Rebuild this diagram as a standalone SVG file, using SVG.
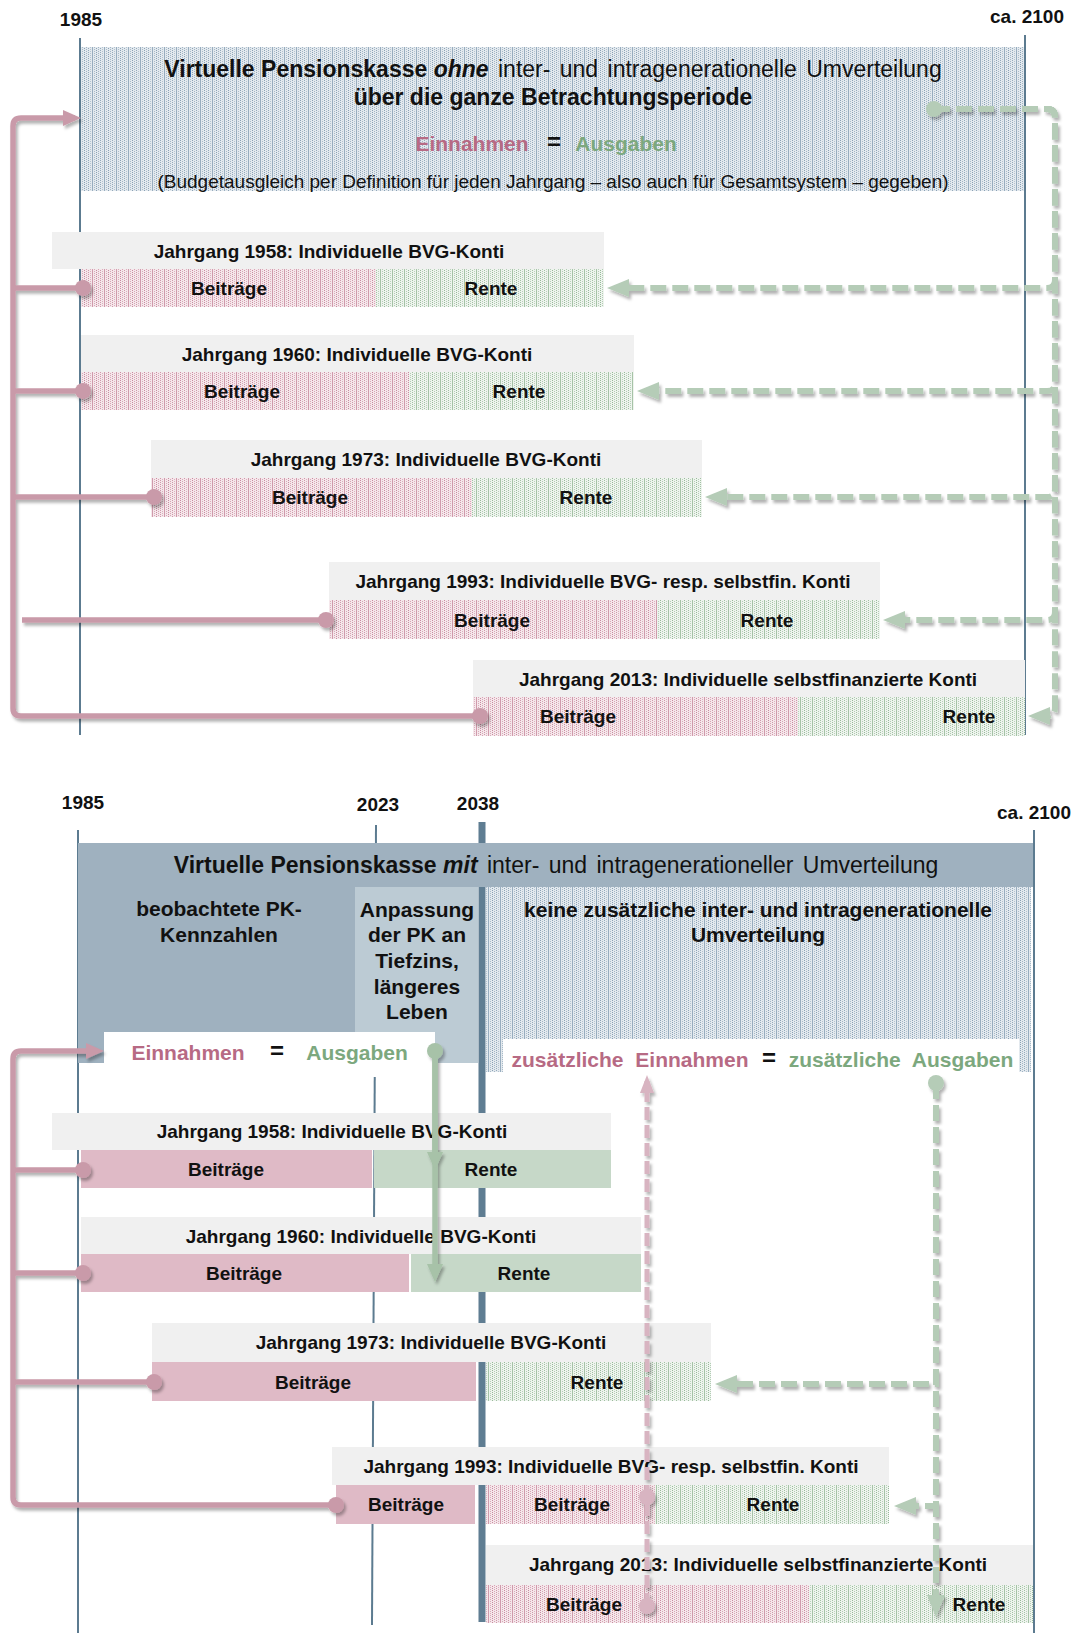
<svg xmlns="http://www.w3.org/2000/svg" width="1075" height="1637" viewBox="0 0 1075 1637">
  <defs>
    <style>
      text { font-family: "Liberation Sans", Arial, sans-serif; fill: #111111; text-anchor: middle; dominant-baseline: central; }
      .yr { font-size: 19px; font-weight: bold; }
      .lbl { font-size: 19px; font-weight: bold; }
      .ttl { font-size: 23px; }
      .sub { font-size: 19px; }
      .col { font-size: 21px; font-weight: bold; }
      .ein { font-size: 21px; font-weight: bold; fill: #b76a84; }
      .aus { font-size: 21px; font-weight: bold; fill: #7ca87e; }
      .eq { font-size: 24px; font-weight: bold; }
      .axis { stroke: #5c7b90; stroke-width: 2; fill: none; }
      .axis.thick { stroke-width: 7; stroke: #5f7d92; }
      .hdr { fill: #f0f0f0; }
      .pk { fill: #dfbac6; }
      .gn { fill: #c6d8c8; }
      .pinkLine { fill: none; stroke: #c99aa9; stroke-width: 5.5; }
      .greenDash { fill: none; stroke: #b5ccb7; stroke-width: 6; stroke-dasharray: 16 6; }
      .greenLine { fill: none; stroke: #a7c2a8; stroke-width: 5.5; }
      .pinkDash { fill: none; stroke: #d8b4c1; stroke-width: 5; stroke-dasharray: 13 5; }
    </style>
    <!-- fine dotted textures with faint vertical banding -->
    <pattern id="pBlue" width="12" height="2" patternUnits="userSpaceOnUse">
      <rect width="12" height="2" fill="#e3e9ee"/>
      <rect x="0" y="0" width="1" height="1" fill="#8aa1b5"/>
      <rect x="2" y="1" width="1" height="1" fill="#a2b5c5"/>
      <rect x="4" y="0" width="1" height="1" fill="#93a9bb"/>
      <rect x="6" y="1" width="1" height="1" fill="#b3c3d0"/>
      <rect x="8" y="0" width="1" height="2" fill="#98adbf"/>
      <rect x="10" y="1" width="1" height="1" fill="#a9bbc9"/>
    </pattern>
    <pattern id="pPink" width="12" height="2" patternUnits="userSpaceOnUse">
      <rect width="12" height="2" fill="#f5e7eb"/>
      <rect x="0" y="0" width="1" height="1" fill="#c98ba0"/>
      <rect x="2" y="1" width="1" height="1" fill="#d7a6b5"/>
      <rect x="4" y="0" width="1" height="1" fill="#cf98aa"/>
      <rect x="6" y="1" width="1" height="1" fill="#dcb0be"/>
      <rect x="8" y="0" width="1" height="2" fill="#d09bac"/>
      <rect x="10" y="1" width="1" height="1" fill="#d9abb9"/>
    </pattern>
    <pattern id="pGreen" width="12" height="2" patternUnits="userSpaceOnUse">
      <rect width="12" height="2" fill="#eef4ee"/>
      <rect x="0" y="0" width="1" height="1" fill="#98b99a"/>
      <rect x="2" y="1" width="1" height="1" fill="#b3ccb4"/>
      <rect x="4" y="0" width="1" height="1" fill="#a3c1a4"/>
      <rect x="6" y="1" width="1" height="1" fill="#bad1bb"/>
      <rect x="8" y="0" width="1" height="2" fill="#a6c3a7"/>
      <rect x="10" y="1" width="1" height="1" fill="#b6ceb7"/>
    </pattern>
    <filter id="shadow" filterUnits="userSpaceOnUse" x="0" y="0" width="1075" height="1637">
      <feDropShadow dx="2" dy="3" stdDeviation="1.6" flood-color="#000" flood-opacity="0.3"/>
    </filter>
    <marker id="arrPink" markerUnits="userSpaceOnUse" markerWidth="18" markerHeight="18" refX="12" refY="9" orient="auto">
      <path d="M0,1 L18,9 L0,17 z" fill="#c99aa9"/>
    </marker>
    <marker id="arrGreenD" markerUnits="userSpaceOnUse" markerWidth="22" markerHeight="20" refX="15" refY="10" orient="auto">
      <path d="M0,1 L22,10 L0,19 z" fill="#b5ccb7"/>
    </marker>
    <marker id="arrGreen" markerUnits="userSpaceOnUse" markerWidth="18" markerHeight="18" refX="12" refY="9" orient="auto">
      <path d="M0,1 L18,9 L0,17 z" fill="#a7c2a8"/>
    </marker>
    <marker id="arrPinkD" markerUnits="userSpaceOnUse" markerWidth="18" markerHeight="16" refX="12" refY="8" orient="auto">
      <path d="M0,1 L18,8 L0,15 z" fill="#d8b4c1"/>
    </marker>
    <marker id="dotPink" markerUnits="userSpaceOnUse" markerWidth="18" markerHeight="18" refX="9" refY="9">
      <circle cx="9" cy="9" r="8" fill="#c99aa9"/>
    </marker>
    <marker id="dotGreenD" markerUnits="userSpaceOnUse" markerWidth="18" markerHeight="18" refX="9" refY="9">
      <circle cx="9" cy="9" r="8" fill="#b5ccb7"/>
    </marker>
    <marker id="dotGreen" markerUnits="userSpaceOnUse" markerWidth="18" markerHeight="18" refX="9" refY="9">
      <circle cx="9" cy="9" r="8" fill="#a7c2a8"/>
    </marker>
    <marker id="dotPinkD" markerUnits="userSpaceOnUse" markerWidth="18" markerHeight="18" refX="9" refY="9">
      <circle cx="9" cy="9" r="8" fill="#d8b4c1"/>
    </marker>
  </defs>

  <rect width="1075" height="1637" fill="#ffffff"/>

  <!-- ===== Part 1: without redistribution ===== -->
  <g id="axes-1">
    <line class="axis" x1="80" y1="38" x2="80" y2="735"/>
    <line class="axis" x1="1025" y1="35" x2="1025" y2="735"/>
    <text class="yr" x="81" y="19">1985</text>
    <text class="yr" x="1027" y="16">ca. 2100</text>
  </g>

  <g id="pk-ohne">
    <rect x="81" y="47" width="943" height="144" fill="url(#pBlue)"/>
    <text class="ttl" x="553" y="69"><tspan font-weight="bold">Virtuelle Pensionskasse </tspan><tspan font-weight="bold" font-style="italic">ohne</tspan><tspan word-spacing="3"> inter- und intragenerationelle Umverteilung</tspan></text>
    <text class="ttl" x="553" y="97" font-weight="bold">über die ganze Betrachtungsperiode</text>
    <text class="ein" x="472" y="143">Einnahmen</text>
    <text class="eq" x="554" y="141">=</text>
    <text class="aus" x="626" y="143">Ausgaben</text>
    <text class="sub" x="553" y="181">(Budgetausgleich per Definition für jeden Jahrgang – also auch für Gesamtsystem – gegeben)</text>
  </g>

  <g id="a-1958">
    <rect class="hdr" x="52" y="232" width="552" height="37"/>
    <rect x="81" y="269" width="295" height="38" fill="url(#pPink)"/>
    <rect x="376" y="269" width="228" height="38" fill="url(#pGreen)"/>
    <text class="lbl" x="329" y="251">Jahrgang 1958: Individuelle BVG-Konti</text>
    <text class="lbl" x="229" y="288">Beiträge</text>
    <text class="lbl" x="491" y="288">Rente</text>
  </g>
  <g id="a-1960">
    <rect class="hdr" x="81" y="335" width="553" height="37"/>
    <rect x="81" y="372" width="328" height="38" fill="url(#pPink)"/>
    <rect x="409" y="372" width="225" height="38" fill="url(#pGreen)"/>
    <text class="lbl" x="357" y="354">Jahrgang 1960: Individuelle BVG-Konti</text>
    <text class="lbl" x="242" y="391">Beiträge</text>
    <text class="lbl" x="519" y="391">Rente</text>
  </g>
  <g id="a-1973">
    <rect class="hdr" x="151" y="440" width="551" height="38"/>
    <rect x="151" y="478" width="321" height="39" fill="url(#pPink)"/>
    <rect x="472" y="478" width="230" height="39" fill="url(#pGreen)"/>
    <text class="lbl" x="426" y="459">Jahrgang 1973: Individuelle BVG-Konti</text>
    <text class="lbl" x="310" y="497">Beiträge</text>
    <text class="lbl" x="586" y="497">Rente</text>
  </g>
  <g id="a-1993">
    <rect class="hdr" x="329" y="562" width="551" height="38"/>
    <rect x="329" y="600" width="328" height="39" fill="url(#pPink)"/>
    <rect x="657" y="600" width="223" height="39" fill="url(#pGreen)"/>
    <text class="lbl" x="603" y="581">Jahrgang 1993: Individuelle BVG- resp. selbstfin. Konti</text>
    <text class="lbl" x="492" y="620">Beiträge</text>
    <text class="lbl" x="767" y="620">Rente</text>
  </g>
  <g id="a-2013">
    <rect class="hdr" x="473" y="660" width="552" height="37"/>
    <rect x="473" y="697" width="325" height="39" fill="url(#pPink)"/>
    <rect x="798" y="697" width="227" height="39" fill="url(#pGreen)"/>
    <text class="lbl" x="748" y="679">Jahrgang 2013: Individuelle selbstfinanzierte Konti</text>
    <text class="lbl" x="578" y="716">Beiträge</text>
    <text class="lbl" x="969" y="716">Rente</text>
  </g>

  <!-- ===== Part 2: with redistribution ===== -->
  <g id="axes-2">
    <line class="axis" x1="78" y1="830" x2="78" y2="1633"/>
    <line class="axis" x1="376" y1="825" x2="372" y2="1625"/>
    <line class="axis thick" x1="482" y1="822" x2="482" y2="1622"/>
    <line class="axis" x1="1034" y1="830" x2="1034" y2="1633"/>
    <text class="yr" x="83" y="802">1985</text>
    <text class="yr" x="378" y="804">2023</text>
    <text class="yr" x="478" y="803">2038</text>
    <text class="yr" x="1034" y="812">ca. 2100</text>
  </g>

  <g id="pk-mit">
    <rect x="78" y="843" width="955" height="44" fill="#9fb1bf"/>
    <rect x="78" y="887" width="277" height="176" fill="#9fb1bf"/>
    <rect x="355" y="887" width="123" height="176" fill="#bccbd4"/>
    <rect x="486" y="887" width="545" height="185" fill="url(#pBlue)"/>
    <rect x="503" y="1039" width="516" height="40" fill="#ffffff"/>
    <rect x="104" y="1032" width="331" height="45" fill="#ffffff"/>
    <text class="ttl" x="556" y="865"><tspan font-weight="bold">Virtuelle Pensionskasse </tspan><tspan font-weight="bold" font-style="italic">mit</tspan><tspan word-spacing="3"> inter- und intragenerationeller Umverteilung</tspan></text>
    <text class="col" x="219" y="908">beobachtete PK-</text>
    <text class="col" x="219" y="934">Kennzahlen</text>
    <text class="col" x="417" y="909">Anpassung</text>
    <text class="col" x="417" y="934">der PK an</text>
    <text class="col" x="417" y="960">Tiefzins,</text>
    <text class="col" x="417" y="986">längeres</text>
    <text class="col" x="417" y="1011">Leben</text>
    <text class="col" x="758" y="909">keine zusätzliche inter- und intragenerationelle</text>
    <text class="col" x="758" y="934">Umverteilung</text>
    <text class="ein" x="188" y="1052">Einnahmen</text>
    <text class="eq" x="277" y="1050">=</text>
    <text class="aus" x="357" y="1052">Ausgaben</text>
    <text class="ein" x="630" y="1059" word-spacing="6">zusätzliche Einnahmen</text>
    <text class="eq" x="769" y="1057">=</text>
    <text class="aus" x="901" y="1059" word-spacing="6">zusätzliche Ausgaben</text>
  </g>

  <g id="b-1958">
    <rect class="hdr" x="52" y="1113" width="559" height="37"/>
    <rect class="pk" x="81" y="1150" width="291" height="38"/>
    <rect class="gn" x="374" y="1150" width="237" height="38"/>
    <text class="lbl" x="332" y="1131">Jahrgang 1958: Individuelle BVG-Konti</text>
    <text class="lbl" x="226" y="1169">Beiträge</text>
    <text class="lbl" x="491" y="1169">Rente</text>
  </g>
  <g id="b-1960">
    <rect class="hdr" x="81" y="1217" width="560" height="37"/>
    <rect class="pk" x="81" y="1254" width="328" height="38"/>
    <rect class="gn" x="411" y="1254" width="230" height="38"/>
    <text class="lbl" x="361" y="1236">Jahrgang 1960: Individuelle BVG-Konti</text>
    <text class="lbl" x="244" y="1273">Beiträge</text>
    <text class="lbl" x="524" y="1273">Rente</text>
  </g>
  <g id="b-1973">
    <rect class="hdr" x="152" y="1323" width="559" height="39"/>
    <rect class="pk" x="152" y="1362" width="324" height="39"/>
    <rect x="486" y="1362" width="225" height="39" fill="url(#pGreen)"/>
    <text class="lbl" x="431" y="1342">Jahrgang 1973: Individuelle BVG-Konti</text>
    <text class="lbl" x="313" y="1382">Beiträge</text>
    <text class="lbl" x="597" y="1382">Rente</text>
  </g>
  <g id="b-1993">
    <rect class="hdr" x="332" y="1447" width="557" height="38"/>
    <rect class="pk" x="336" y="1485" width="139" height="39"/>
    <rect x="486" y="1485" width="169" height="39" fill="url(#pPink)"/>
    <rect x="655" y="1485" width="234" height="39" fill="url(#pGreen)"/>
    <text class="lbl" x="611" y="1466">Jahrgang 1993: Individuelle BVG- resp. selbstfin. Konti</text>
    <text class="lbl" x="406" y="1504">Beiträge</text>
    <text class="lbl" x="572" y="1504">Beiträge</text>
    <text class="lbl" x="773" y="1504">Rente</text>
  </g>
  <g id="b-2013">
    <rect class="hdr" x="486" y="1545" width="547" height="40"/>
    <rect x="486" y="1585" width="323" height="38" fill="url(#pPink)"/>
    <rect x="809" y="1585" width="224" height="38" fill="url(#pGreen)"/>
    <text class="lbl" x="758" y="1564">Jahrgang 2013: Individuelle selbstfinanzierte Konti</text>
    <text class="lbl" x="584" y="1604">Beiträge</text>
    <text class="lbl" x="979" y="1604">Rente</text>
  </g>

  <!-- ===== Connectors ===== -->
  <g id="connectors" filter="url(#shadow)">
    <!-- part 1: contributions into the pension fund -->
    <path class="pinkLine" d="M480,716 H21 Q13,716 13,708 V126 Q13,118 21,118 H75" marker-start="url(#dotPink)" marker-end="url(#arrPink)"/>
    <path class="pinkLine" d="M83,288 H13" marker-start="url(#dotPink)"/>
    <path class="pinkLine" d="M83,391 H13" marker-start="url(#dotPink)"/>
    <path class="pinkLine" d="M154,497 H13" marker-start="url(#dotPink)"/>
    <path class="pinkLine" d="M326,620 H22" marker-start="url(#dotPink)"/>
    <!-- part 1: pensions paid out -->
    <path class="greenDash" d="M934,109 H1047 Q1055,109 1055,117 V280 Q1055,288 1047,288 H614" marker-start="url(#dotGreenD)" marker-end="url(#arrGreenD)"/>
    <path class="greenDash" d="M934,109 H1047 Q1055,109 1055,117 V383 Q1055,391 1047,391 H644" marker-end="url(#arrGreenD)"/>
    <path class="greenDash" d="M934,109 H1047 Q1055,109 1055,117 V489 Q1055,497 1047,497 H712" marker-end="url(#arrGreenD)"/>
    <path class="greenDash" d="M934,109 H1047 Q1055,109 1055,117 V612 Q1055,620 1047,620 H890" marker-end="url(#arrGreenD)"/>
    <path class="greenDash" d="M934,109 H1047 Q1055,109 1055,117 V708 Q1055,716 1047,716 H1035" marker-end="url(#arrGreenD)"/>

    <!-- part 2: contributions -->
    <path class="pinkLine" d="M336,1505 H21 Q13,1505 13,1497 V1059 Q13,1051 21,1051 H98" marker-start="url(#dotPink)" marker-end="url(#arrPink)"/>
    <path class="pinkLine" d="M83,1170 H13" marker-start="url(#dotPink)"/>
    <path class="pinkLine" d="M83,1273 H13" marker-start="url(#dotPink)"/>
    <path class="pinkLine" d="M154,1382 H13" marker-start="url(#dotPink)"/>
    <!-- part 2: pensions of the older cohorts -->
    <path class="greenLine" d="M435,1051 V1276" marker-start="url(#dotGreen)" marker-end="url(#arrGreen)"/>
    <path class="greenLine" d="M435,1051 V1164" marker-end="url(#arrGreen)"/>
    <!-- part 2: additional revenue -->
    <path class="pinkDash" d="M647,1606 V1081" marker-start="url(#dotPinkD)" marker-end="url(#arrPinkD)"/>
    <circle cx="647" cy="1497" r="8" fill="#d8b4c1"/>
    <!-- part 2: additional expenditure -->
    <path class="greenDash" d="M936,1083 V1610" marker-start="url(#dotGreenD)" marker-end="url(#arrGreenD)"/>
    <path class="greenDash" d="M936,1083 V1384 H722" marker-end="url(#arrGreenD)"/>
    <path class="greenDash" d="M936,1083 V1506 H901" marker-end="url(#arrGreenD)"/>
  </g>
</svg>
